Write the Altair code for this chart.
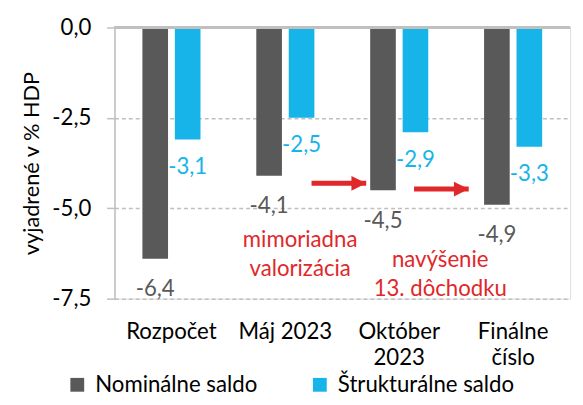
import altair as alt
import pandas as pd

categories = ["Rozpočet", "Máj 2023", "Október\n2023", "Finálne\nčíslo"]
series = ["Nominálne saldo", "Štrukturálne saldo"]
nominal = [-6.4, -4.1, -4.5, -4.9]
structural = [-3.1, -2.5, -2.9, -3.3]
y_ticks = [0, -2.5, -5.0, -7.5]

# annotations (x in category-index units: category i centre = i + 0.5)
arrow_x = [1.73, 2.63]
arrow_x2 = [2.21, 3.11]
arrow_y = [-4.31, -4.47]
note_text = ["mimoriadna\nvalorizácia", "navýšenie\n13. dôchodku"]
note_x = [1.63, 2.86]
note_y = [-6.08, -6.63]

FONT = "Lato"
FS = 22.5
DARK = "#595959"
CYAN = "#16B4E8"
RED = "#E0282A"
GRID = "#BFBFBF"

rows = []
for c, n, s in zip(categories, nominal, structural):
    rows.append({"cat": c, "series": series[0], "value": n, "label": f"{n:.1f}".replace(".", ",")})
    rows.append({"cat": c, "series": series[1], "value": s, "label": f"{s:.1f}".replace(".", ",")})
df = pd.DataFrame(rows)

arrows = pd.DataFrame({"x": arrow_x, "x2": arrow_x2, "y": arrow_y})
notes = pd.DataFrame({"x": note_x, "y": note_y, "text": note_text})

yscale = alt.Scale(domain=[-7.5, 0], nice=False, zero=False)
xscale = alt.Scale(domain=categories, paddingInner=0.49, paddingOuter=0.245)
xoff = alt.Scale(domain=series, paddingInner=0.21, paddingOuter=0)

x_enc = alt.X("cat:N", sort=categories, scale=xscale, title=None,
              axis=alt.Axis(labelExpr="split(datum.label, '\\n')", labelFontSize=FS,
                            labelFont=FONT, labelColor="#000000", labelPadding=22,
                            labelLineHeight=27, labelAngle=0, domain=False, ticks=False,
                            grid=False, labelBaseline="top"))
y_enc = alt.Y("value:Q", scale=yscale, title="vyjadrené v % HDP",
              axis=alt.Axis(values=y_ticks,
                            labelExpr="(datum.value < 0 ? '-' : '') + replace(format(abs(datum.value), '.1f'), '.', ',')",
                            labelFontSize=FS, labelFont=FONT, labelColor="#000000",
                            labelPadding=16, tickSize=8, tickColor=GRID, tickWidth=1.5,
                            domainColor=GRID, domainWidth=1.5,
                            grid=True, gridColor=GRID, gridDash=[4, 3], gridWidth=1.5,
                            titleFont=FONT, titleFontSize=22, titleFontWeight="normal",
                            titleColor="#000000", titlePadding=8))

bars = alt.Chart(df).mark_bar().encode(
    x=x_enc,
    xOffset=alt.XOffset("series:N", sort=series, scale=xoff),
    y=y_enc,
    color=alt.Color("series:N", sort=series,
                    scale=alt.Scale(domain=series, range=[DARK, CYAN]),
                    legend=alt.Legend(orient="none", direction="horizontal", legendX=-49,
                                      legendY=351, title=None, symbolType="square",
                                      symbolSize=196, symbolStrokeWidth=0,
                                      labelFont=FONT, labelFontSize=FS, labelColor="#000000",
                                      labelOffset=7, columnPadding=52, padding=0,
                                      labelLimit=400)),
)

zero_rule = alt.Chart(df).mark_rule(color=GRID, strokeWidth=2).encode(y=alt.datum(0))

def labels(name, color, dy):
    return alt.Chart(df).transform_filter(alt.datum.series == name).mark_text(
        font=FONT, fontSize=FS, color=color, baseline="middle", align="center", dy=dy
    ).encode(
        x=alt.X("cat:N", sort=categories, scale=xscale),
        xOffset=alt.XOffset("series:N", sort=series, scale=xoff),
        y=alt.Y("value:Q", scale=yscale),
        text="label:N",
    )

lab_nom = labels(series[0], DARK, 31)
lab_str = labels(series[1], CYAN, 28)

qx = alt.Scale(domain=[0, 4], nice=False, zero=False)
shaft = alt.Chart(arrows).mark_rule(color=RED, strokeWidth=5).encode(
    x=alt.X("x:Q", scale=qx, axis=None),
    x2="x2:Q",
    y=alt.Y("y:Q", scale=yscale),
)
head = alt.Chart(arrows).mark_point(shape="M-2,-1L0,0L-2,1Z", size=225, filled=True,
                                    color=RED, opacity=1, strokeWidth=0).encode(
    x=alt.X("x2:Q", scale=qx, axis=None),
    y=alt.Y("y:Q", scale=yscale),
)
note = alt.Chart(notes).mark_text(font=FONT, fontSize=FS, color=RED, lineBreak="\n",
                                  lineHeight=29, baseline="alphabetic", align="center").encode(
    x=alt.X("x:Q", scale=qx, axis=None),
    y=alt.Y("y:Q", scale=yscale),
    text="text:N",
)

cat_layer = alt.layer(bars, zero_rule, lab_nom, lab_str)
ann_layer = alt.layer(shaft, head, note)

chart = alt.layer(cat_layer, ann_layer).resolve_scale(x="independent").properties(
    width=462, height=275,
    autosize=alt.AutoSizeParams(type="none"),
    padding={"left": 108, "top": 17, "right": 5, "bottom": 97},
).configure_view(stroke=None).configure(font=FONT)

chart.save("out.html", embed_options={"renderer": "svg", "actions": False})
